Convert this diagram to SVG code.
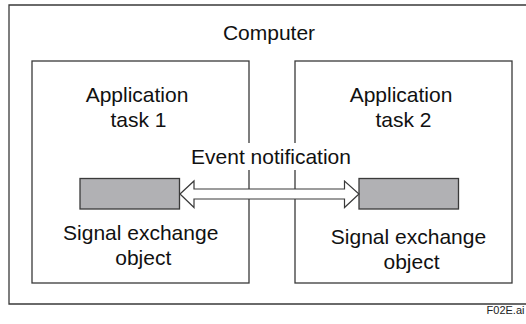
<svg xmlns="http://www.w3.org/2000/svg" width="526" height="324" viewBox="0 0 526 324">
<style>
.t{font-family:"Liberation Sans",Arial,sans-serif;font-size:21px;fill:#111;text-anchor:middle}
.box{fill:none;stroke:#3a3a3a;stroke-width:1.3}
.obj{fill:#b1b1b4;stroke:#3a3a3a;stroke-width:1.3}
.arrow{fill:#fff;stroke:#3a3a3a;stroke-width:1.2;stroke-linejoin:miter}
.small{font-family:"Liberation Sans",Arial,sans-serif;font-size:11px;fill:#222;text-anchor:end}
</style>
<rect width="526" height="324" fill="#fff"/>
<g id="computer">
<path class="box" d="M530,5 H9 V304 H530"/>
<text class="t" x="269" y="40">Computer</text>
</g>
<g id="task1">
<rect class="box" x="32" y="61" width="217" height="222"/>
<text class="t" x="137" y="102">Application</text>
<text class="t" x="138.5" y="127">task 1</text>
</g>
<g id="task2">
<rect class="box" x="295" y="61" width="217" height="222"/>
<text class="t" x="401" y="102">Application</text>
<text class="t" x="403.5" y="127">task 2</text>
</g>
<g id="obj1">
<rect class="obj" x="80" y="178.5" width="99.5" height="30.5"/>
<text class="t" x="140.7" y="240">Signal exchange</text>
<text class="t" x="143.3" y="265">object</text>
</g>
<g id="obj2">
<rect class="obj" x="359" y="178.5" width="99.5" height="30.5"/>
<text class="t" x="408.5" y="244">Signal exchange</text>
<text class="t" x="411.5" y="268.5">object</text>
</g>
<g id="connectors">
<polygon class="arrow" points="180,194 194,181 194,189 344.5,189 344.5,181 359,194 344.5,207.5 344.5,199 194,199 194,207.5"/>
</g>
<g id="event-label">
<rect x="186" y="143" width="170" height="27" fill="#fff"/>
<text class="t" x="271" y="163.5">Event notification</text>
</g>
<text class="small" x="524.5" y="314">F02E.ai</text>
</svg>
